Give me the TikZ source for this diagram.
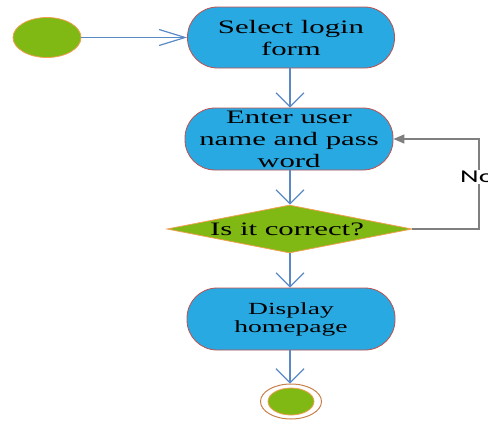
\documentclass[tikz,border=0pt]{standalone}
\usepackage{fontspec}
\usetikzlibrary{shapes.geometric,arrows.meta}
\newfontfamily\wideserif[FakeStretch=1.62]{Liberation Serif}
\newfontfamily\widesans[FakeStretch=1.6]{Carlito}
\definecolor{actblue}{HTML}{29A9E1}
\definecolor{actborder}{HTML}{C0504D}
\definecolor{dotgreen}{HTML}{80B814}
\definecolor{dotborder}{HTML}{F0A050}
\definecolor{flowblue}{HTML}{5A8AC6}
\definecolor{loopgray}{HTML}{7F7F7F}
\definecolor{ringbrown}{HTML}{C8804A}
\begin{document}
\begin{tikzpicture}[x=1pt,y=-1pt,
  activity/.style={draw=actborder,line width=0.8pt,fill=actblue,rectangle,rounded corners=30pt,
    minimum width=207pt,minimum height=61pt,inner sep=0pt,align=center,
    font=\wideserif\fontsize{19}{22}\selectfont,text=black},
  dot/.style={draw=dotborder,line width=0.8pt,fill=dotgreen,ellipse,inner sep=0pt},
  flow/.style={draw=flowblue,line width=1.2pt,-{Straight Barb[length=14pt,width=28pt]}},
  hflow/.style={draw=flowblue,line width=1.2pt,-{Straight Barb[length=26pt,width=16pt]}},
  loopflow/.style={draw=loopgray,line width=1.5pt,-{Triangle[length=11pt,width=9pt]}}
]
\useasboundingbox (0,0) rectangle (488,421);

\node[dot,minimum width=68pt,minimum height=40pt] (start) at (47,37.5) {};
\node[activity] (select) at (291,37.5) {Select login\\form};
\node[activity,minimum width=208pt,minimum height=62pt] (enter) at (289,139) {Enter user\\name and pass\\word};
\node[diamond,draw=dotborder,line width=0.8pt,fill=dotgreen,inner sep=0pt,
      minimum width=245pt,minimum height=48pt] (check) at (289.5,229) {};
\node[font=\wideserif\fontsize{19}{22}\selectfont,text=black] (checktext) at (287,229) {Is it correct?};
\node[activity,minimum width=208pt,minimum height=62pt,font=\wideserif\fontsize{17}{18}\selectfont] (display) at (291,319) {Display\\homepage};
\node[ellipse,draw=ringbrown,line width=1pt,fill=white,minimum width=61pt,minimum height=35pt,inner sep=0pt] (end) at (291,401.5) {};
\node[dot,minimum width=46pt,minimum height=27pt] (endcore) at (291,401.5) {};

\draw[hflow] (start) -- (select);
\draw[flow] (select.south -| 290,0) -- (enter.north -| 290,0);
\draw[flow] (enter.south -| 290,0) -- (check.north -| 290,0);
\draw[flow] (check.south -| 290,0) -- (display.north -| 290,0);
\draw[flow] (display.south -| 290,0) -- (end.north -| 290,0);

\coordinate (loopcorner) at (479,229);
\draw[loopflow] (check.east) -- (loopcorner) |- (enter.east);
\node[font=\widesans\fontsize{18}{20}\selectfont,fill=white,inner sep=1pt,anchor=west,text=black] (nolabel) at (459,177) {No};
\end{tikzpicture}
\end{document}
